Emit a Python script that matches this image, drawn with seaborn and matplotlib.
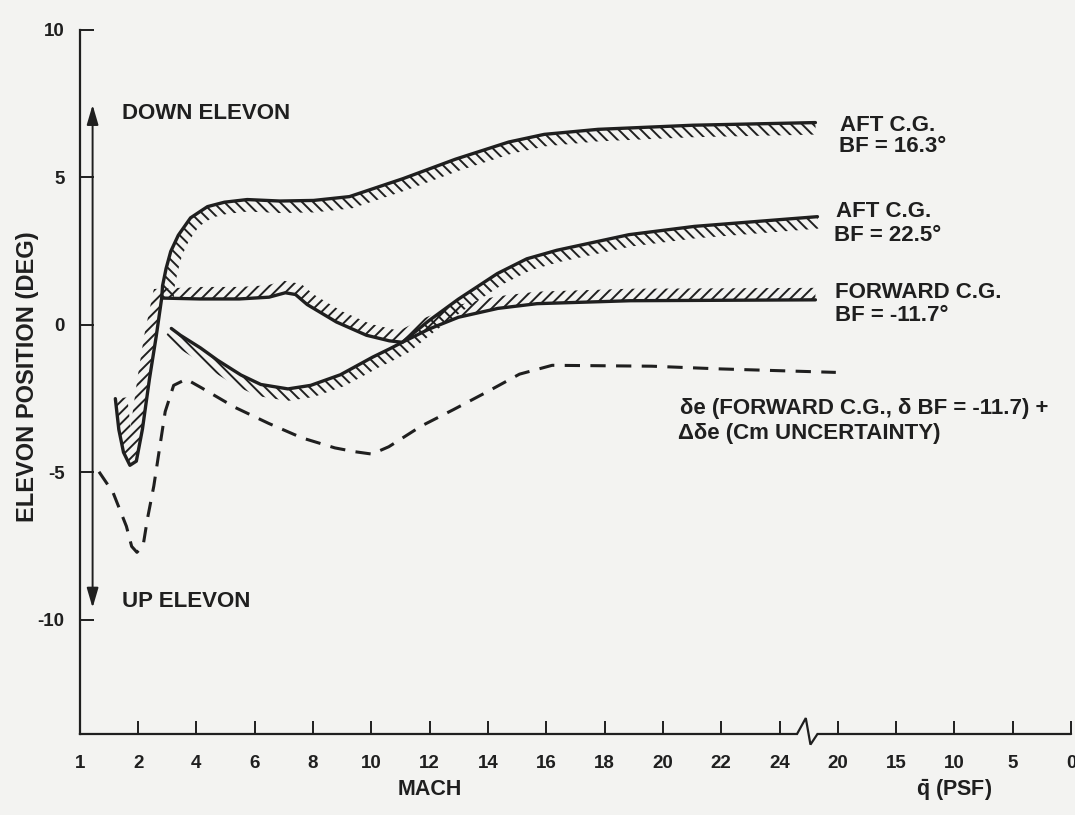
import numpy as np
import matplotlib
matplotlib.use("Agg")
import matplotlib.pyplot as plt
import seaborn as sns

# ---------------------------------------------------------------- data
# Axis labelling: Mach numbers, then dynamic pressure after the axis break
mach_ticks = [1, 2, 4, 6, 8, 10, 12, 14, 16, 18, 20, 22, 24]
qbar_ticks = [20, 15, 10, 5, 0]
elevon_ticks = [10, 5, 0, -5, -10]

# Forward C.G., BF = -11.7 deg (low-Mach notch included)
fwd_mach = [1.61, 1.67, 1.75, 1.86, 1.97, 2.15, 2.39, 2.62, 2.81, 4.11, 5.47,
            6.49, 7.05, 7.40, 7.80, 8.80, 9.83, 10.62, 11.06, 11.98, 12.99,
            14.34, 15.68, 18.88, 25.23]
fwd_deg = [-2.51, -3.56, -4.33, -4.77, -4.63, -3.54, -1.84, -0.41, 0.90, 0.87,
           0.87, 0.93, 1.08, 1.02, 0.68, 0.09, -0.36, -0.55, -0.60, -0.15,
           0.25, 0.55, 0.71, 0.81, 0.84]

# Aft C.G., BF = 16.3 deg
aft163_mach = [2.81, 2.84, 2.96, 3.12, 3.38, 3.80, 4.38, 4.96, 5.74, 6.86,
               8.02, 9.25, 11.09, 12.89, 14.71, 15.93, 17.77, 21.03, 25.23]
aft163_deg = [0.90, 1.32, 1.90, 2.48, 3.03, 3.62, 4.00, 4.15, 4.24, 4.19,
              4.21, 4.34, 4.95, 5.61, 6.19, 6.45, 6.62, 6.76, 6.85]

# Aft C.G., BF = 22.5 deg
aft225_mach = [3.14, 3.45, 4.14, 4.73, 5.53, 6.21, 7.14, 7.92, 8.94, 10.05,
               10.63, 11.06, 11.97, 12.98, 14.32, 15.33, 16.36, 18.84, 21.08,
               25.30]
aft225_deg = [-0.13, -0.36, -0.79, -1.21, -1.71, -2.03, -2.18, -2.06, -1.70,
              -1.10, -0.82, -0.60, 0.13, 0.86, 1.73, 2.23, 2.52, 3.05, 3.33,
              3.66]

# Forward C.G. plus Cm-uncertainty increment
unc_mach = [1.33, 1.57, 1.80, 1.89, 1.98, 2.17, 2.32, 2.54, 2.75, 2.93, 3.22,
            3.65, 4.17, 5.31, 6.48, 7.62, 8.75, 9.44, 10.02, 10.60, 11.71,
            12.82, 13.97, 15.08, 16.20, 17.36, 19.62, 21.90, 25.93]
unc_deg = [-4.99, -5.69, -6.84, -7.52, -7.72, -7.51, -6.59, -5.47, -4.11,
           -2.95, -2.06, -1.85, -2.14, -2.80, -3.35, -3.84, -4.18, -4.31,
           -4.39, -4.14, -3.44, -2.88, -2.28, -1.68, -1.38, -1.39, -1.41,
           -1.50, -1.62]

# ---------------------------------------------------------------- style
BG = "#f3f3f1"
INK = "#1f1f1f"

sns.set_theme(style="white")
plt.rcParams["font.family"] = ["Liberation Sans", "DejaVu Sans"]
plt.rcParams["font.weight"] = "bold"
plt.rcParams["axes.unicode_minus"] = False
plt.rcParams["mathtext.fontset"] = "custom"
plt.rcParams["mathtext.bf"] = "Liberation Sans:bold"
plt.rcParams["mathtext.rm"] = "Liberation Sans:bold"
plt.rcParams["hatch.linewidth"] = 1.4
plt.rcParams["text.color"] = INK


def mach_pos(m):
    """Axis position: Mach 1-2 occupies one slot, then one slot per 2 Mach."""
    m = np.asarray(m, dtype=float)
    return np.where(m < 2, m - 1.0, m / 2.0)


fig = plt.figure(figsize=(10.75, 8.15), dpi=100, facecolor=BG)
ax = fig.add_axes([0.0742, 0.0994, 0.9222, 0.8642])
ax.set_facecolor(BG)

XMAX = 17.0
YMIN, YMAX = -13.88, 10.0

curves = [
    (fwd_mach, fwd_deg),
    (aft163_mach, aft163_deg),
    (aft225_mach, aft225_deg),
]
for m, d in curves:
    sns.lineplot(x=mach_pos(m), y=d, ax=ax, sort=False, estimator=None,
                 color=INK, linewidth=2.4, solid_capstyle="round",
                 solid_joinstyle="round")

sns.lineplot(x=mach_pos(unc_mach), y=unc_deg, ax=ax, sort=False,
             estimator=None, color=INK, linewidth=2.2,
             linestyle=(0, (5, 3.4)), dash_capstyle="butt")

ax.set_xlim(0, XMAX)
ax.set_ylim(YMIN, YMAX)


def hatch_band(x, y, side, width_px, pattern):
    """Hatched strip running along one side of a curve."""
    pts = ax.transData.transform(np.column_stack([x, y]))
    tang = np.gradient(pts, axis=0)
    tang /= np.linalg.norm(tang, axis=1)[:, None]
    normal = np.column_stack([tang[:, 1], -tang[:, 0]]) * side
    edge = pts + normal * width_px
    poly = ax.transData.inverted().transform(np.vstack([pts, edge[::-1]]))
    ax.fill(poly[:, 0], poly[:, 1], facecolor="none", edgecolor=INK,
            hatch=pattern, linewidth=0, zorder=1.5)


hatch_band(mach_pos(fwd_mach), fwd_deg, -1, 12, "///")
hatch_band(mach_pos(aft163_mach), aft163_deg, 1, 12, "\\\\\\")
hatch_band(mach_pos(aft225_mach), aft225_deg, 1, 12, "\\\\\\")

# ---------------------------------------------------------------- axes
sns.despine(ax=ax, top=True, right=True, bottom=True)
ax.spines["left"].set_linewidth(1.6)
ax.spines["left"].set_color(INK)

xpos = list(mach_pos(mach_ticks)) + list(13 + np.arange(len(qbar_ticks)))
xlab = [str(v) for v in mach_ticks] + [str(v) for v in qbar_ticks]
ax.set_xticks(xpos)
ax.set_xticklabels(xlab)
ax.set_yticks(elevon_ticks)
ax.set_yticklabels([str(v) for v in elevon_ticks])
ax.tick_params(axis="x", direction="in", length=9.5, width=1.4, pad=15,
               labelsize=13.5, colors=INK, bottom=True)
ax.tick_params(axis="y", direction="in", length=10, width=1.4, pad=11,
               labelsize=13.5, colors=INK, left=True)
for lab in ax.get_xticklabels() + ax.get_yticklabels():
    lab.set_fontweight("bold")

# baseline with the break between the Mach and dynamic-pressure scales
up, dn = 0.54, 0.36
ax.plot([0, 12.30, 12.45, 12.53, 12.65, XMAX],
        [YMIN, YMIN, YMIN + up, YMIN - dn, YMIN, YMIN],
        color=INK, lw=1.6, clip_on=False, solid_joinstyle="miter", zorder=3)

# direction arrow along the elevon axis
ax.annotate("", xy=(0.22, 7.45), xytext=(0.22, -9.6),
            arrowprops=dict(arrowstyle="<|-|>,head_length=0.75,head_width=0.22",
                            color=INK, lw=1.4, shrinkA=0, shrinkB=0,
                            mutation_scale=16))

# ---------------------------------------------------------------- text
tk = dict(fontsize=16, fontweight="bold", va="center", ha="left", color=INK)
ax.text(0.73, 7.16, "DOWN ELEVON", **tk)
ax.text(0.73, -9.39, "UP ELEVON", **tk)

ax.text(13.04, 6.76, "AFT C.G.", **tk)
ax.text(13.02, 6.05, "BF = 16.3°", **tk)
ax.text(12.97, 3.84, "AFT C.G.", **tk)
ax.text(12.93, 3.03, "BF = 22.5°", **tk)
ax.text(12.95, 1.10, "FORWARD C.G.", **tk)
ax.text(12.95, 0.32, "BF = -11.7°", **tk)
ax.text(10.30, -2.85, "δe (FORWARD C.G., δ BF = -11.7) +", **tk)
ax.text(10.26, -3.70, "Δδe (Cm UNCERTAINTY)", **tk)

lab = dict(fontsize=15.5, fontweight="bold", va="center", ha="center",
           color=INK, transform=ax.get_xaxis_transform())
ax.text(6.0, -0.0795, "MACH", **lab)
ax.text(15.0, -0.0795, r"$\bar{\mathbf{q}}$ (PSF)", **lab)

fig.text(0.0254, 0.538, "ELEVON POSITION (DEG)", rotation=90, fontsize=17,
         fontweight="bold", ha="center", va="center", color=INK)

fig.savefig("out.png", dpi=100, facecolor=BG)
